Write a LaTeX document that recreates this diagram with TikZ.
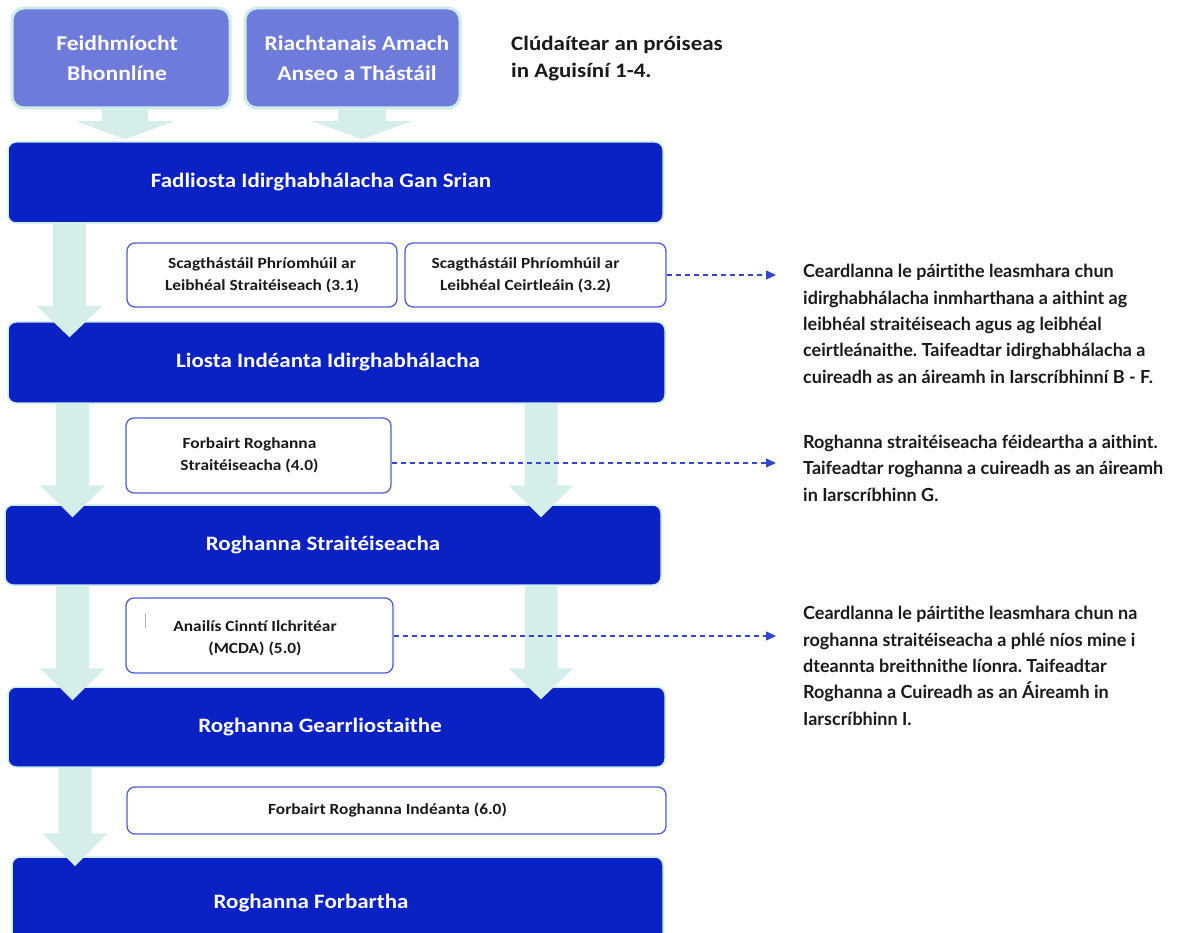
\documentclass[tikz,border=0pt]{standalone}
\usepackage{fontspec}
\setmainfont{Carlito}[FakeStretch=1.12]
\newfontfamily\notefont{Lato}[Ligatures=NoCommon]
\usetikzlibrary{arrows.meta,calc}
\frenchspacing
\definecolor{deepblue}{HTML}{0A22C4}
\definecolor{lightblue}{HTML}{6E7BDB}
\definecolor{tealc}{HTML}{D5EEEA}
\definecolor{glow}{HTML}{CDEDEA}
\definecolor{subedge}{HTML}{4E5ED8}
\definecolor{dashc}{HTML}{3246D0}
\definecolor{txt}{HTML}{1A1A1A}
\newcommand{\tarrow}[7]{%
  \fill[tealc] let \p1=(#2.south), \p2=($(#3.north)+(0,-#6)$), \p3=($(#3.north)+(0,#7)$) in
   (#1pt-#4pt,\y1) -- (#1pt+#4pt,\y1) -- (#1pt+#4pt,\y2) -- (#1pt+#5pt,\y2)
   -- (#1pt,\y3) -- (#1pt-#5pt,\y2) -- (#1pt-#4pt,\y2) -- cycle;}
\begin{document}
\begin{tikzpicture}[x=1pt,y=-1pt,
  mainbox/.style={draw=glow, line width=1.5pt, fill=deepblue, rounded corners=8pt, inner sep=0pt},
  mainlabel/.style={text=white, font=\bfseries\fontsize{20.5}{26}\selectfont},
  topbox/.style={draw=glow, line width=3pt, fill=lightblue, rounded corners=12pt, inner sep=0pt},
  toplabel/.style={text=white, align=center, font=\bfseries\fontsize{21}{30}\selectfont},
  subbox/.style={draw=subedge, line width=1.3pt, fill=white, rounded corners=8pt, inner sep=0pt},
  sublabel/.style={text=txt, align=center, font=\bfseries\fontsize{15.5}{22}\selectfont},
  note/.style={text=txt, align=left, anchor=base west, inner sep=0pt, font=\notefont\bfseries\fontsize{18}{26.3}\selectfont},
  covernote/.style={text=txt, align=left, anchor=base west, inner sep=0pt, font=\bfseries\fontsize{20.5}{27}\selectfont},
  dasharrow/.style={draw=dashc, line width=1.3pt, dash pattern=on 5pt off 4pt, -{Triangle[length=10pt,width=9pt]}}
]
\useasboundingbox (0,0) rectangle (1194,933);
\fill[white] (0,0) rectangle (1194,933);

% top boxes
\node[topbox, minimum width=218pt, minimum height=100pt,
  label={[toplabel, xshift=-4pt]center:{Feidhmíocht\\Bhonnlíne}}] (T1) at (121,58) {};
\node[topbox, minimum width=215pt, minimum height=100pt,
  label={[toplabel, xshift=4.5pt]center:{Riachtanais Amach\\Anseo a Thástáil}}] (T2) at (352.5,58) {};
\node[covernote] (C0) at (511,78) {Clúdaítear an próiseas\\in Aguisíní 1-4.};

% main boxes
\node[mainbox, minimum width=655pt, minimum height=81pt,
  label={[mainlabel, xshift=-14.5pt]center:Fadliosta Idirghabhálacha Gan Srian}] (A) at (335.5,182.5) {};
\node[mainbox, minimum width=657pt, minimum height=81pt,
  label={[mainlabel, xshift=-8.5pt]center:Liosta Indéanta Idirghabhálacha}] (B) at (336.5,362.5) {};
\node[mainbox, minimum width=656pt, minimum height=80pt,
  label={[mainlabel, xshift=-10pt]center:Roghanna Straitéiseacha}] (C) at (333,545) {};
\node[mainbox, minimum width=657pt, minimum height=80pt,
  label={[mainlabel, xshift=-16.5pt]center:Roghanna Gearrliostaithe}] (D) at (336.5,727) {};
\node[mainbox, minimum width=651pt, minimum height=90pt,
  label={[mainlabel, xshift=-26.5pt, yshift=-1pt]center:Roghanna Forbartha}] (E) at (337.5,902) {};

% sub boxes
\node[subbox, minimum width=270pt, minimum height=64pt,
  label={[sublabel]center:{Scagthástáil Phríomhúil ar\\Leibhéal Straitéiseach (3.1)}}] (S31) at (262,275) {};
\node[subbox, minimum width=261pt, minimum height=64pt,
  label={[sublabel, xshift=-10pt]center:{Scagthástáil Phríomhúil ar\\Leibhéal Ceirtleáin (3.2)}}] (S32) at (535.5,275) {};
\node[subbox, minimum width=265pt, minimum height=75pt,
  label={[sublabel, xshift=-9pt]center:{Forbairt Roghanna\\Straitéiseacha (4.0)}}] (S40) at (258.5,455.5) {};
\node[subbox, minimum width=267pt, minimum height=75pt,
  label={[sublabel, xshift=-4.5pt, yshift=-3pt]center:{Anailís Cinntí Ilchritéar\\(MCDA) (5.0)}}] (S50) at (259.5,635.5) {};
\node[subbox, minimum width=539pt, minimum height=47pt,
  label={[sublabel, xshift=-9pt]center:{Forbairt Roghanna Indéanta (6.0)}}] (S60) at (396.5,810.5) {};
\draw[gray!60, line width=0.6pt] (145,613) -- (145,628);

% teal block arrows
\tarrow{125}{T1}{A}{23}{49}{20}{-2}
\tarrow{362}{T2}{A}{24}{50}{20}{-2}
\tarrow{69.5}{A}{B}{16.5}{32.5}{15}{16}
\tarrow{72.5}{B}{C}{16.5}{32.5}{19}{13}
\tarrow{541}{B}{C}{16.5}{32.5}{19}{13}
\tarrow{72.5}{C}{D}{16.5}{32.5}{18}{14}
\tarrow{541}{C}{D}{16.5}{32.5}{18}{13}
\tarrow{75}{D}{E}{16.5}{32.5}{23}{10}

% dashed connectors
\coordinate (n1) at (776,275);
\coordinate (n2) at (776,463);
\coordinate (n3) at (776,636);
\draw[dasharrow] (S32.east |- n1) -- (n1);
\draw[dasharrow] (S40.east |- n2) -- (n2);
\draw[dasharrow] (S50.east |- n3) -- (n3);

% notes
\node[note] (N1) at (803,383) {Ceardlanna le páirtithe leasmhara chun\\idirghabhálacha inmharthana a aithint ag\\leibhéal straitéiseach agus ag leibhéal\\ceirtleánaithe. Taifeadtar idirghabhálacha a\\cuireadh as an áireamh in Iarscríbhinní B - F.};
\node[note] (N2) at (803,501) {Roghanna straitéiseacha féideartha a aithint.\\Taifeadtar roghanna a cuireadh as an áireamh\\in Iarscríbhinn G.};
\node[note] (N3) at (803,725) {Ceardlanna le páirtithe leasmhara chun na\\roghanna straitéiseacha a phlé níos mine i\\dteannta breithnithe líonra. Taifeadtar\\Roghanna a Cuireadh as an Áireamh in\\Iarscríbhinn I.};
\end{tikzpicture}
\end{document}
